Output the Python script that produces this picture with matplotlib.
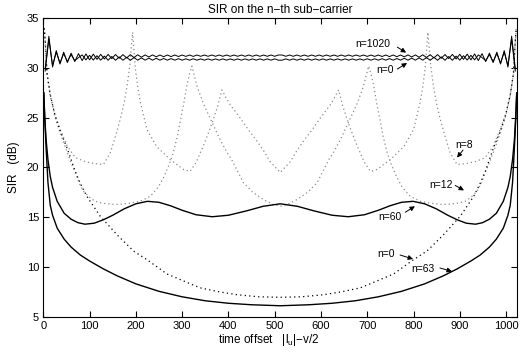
import matplotlib
matplotlib.use('Agg')
import matplotlib.pyplot as plt
import numpy as np

plt.rcParams['font.family'] = ['Liberation Sans', 'DejaVu Sans']
plt.rcParams['mathtext.fontset'] = 'custom'
plt.rcParams['mathtext.rm'] = 'Liberation Sans'
plt.rcParams['mathtext.it'] = 'Liberation Sans'

# ---------------- data ----------------
# oscillating SIR of the edge sub-carriers (values at the extrema)
osc_x = np.arange(4, 1024, 8)
sir_n1020 = [
    29.9, 33.2, 30.1, 31.75, 30.4, 31.6, 30.55, 31.5, 30.65, 31.45, 30.75, 31.42, 30.82, 31.4, 30.87, 31.38,
    30.91, 31.37, 30.95, 31.36, 30.98, 31.35, 31.02, 31.34, 31.06, 31.33, 31.09, 31.32, 31.11, 31.32, 31.13, 31.31,
    31.14, 31.31, 31.15, 31.31, 31.16, 31.31, 31.17, 31.31, 31.17, 31.31, 31.18, 31.31, 31.18, 31.31, 31.18, 31.31,
    31.18, 31.31, 31.18, 31.31, 31.18, 31.31, 31.18, 31.31, 31.18, 31.31, 31.18, 31.31, 31.18, 31.31, 31.18, 31.31,
    31.31, 31.18, 31.31, 31.18, 31.31, 31.18, 31.31, 31.18, 31.31, 31.18, 31.31, 31.18, 31.31, 31.18, 31.31, 31.18,
    31.31, 31.18, 31.31, 31.18, 31.31, 31.18, 31.31, 31.17, 31.31, 31.17, 31.31, 31.16, 31.31, 31.15, 31.31, 31.14,
    31.31, 31.13, 31.32, 31.11, 31.32, 31.09, 31.33, 31.06, 31.34, 31.02, 31.35, 30.98, 31.36, 30.95, 31.37, 30.91,
    31.38, 30.87, 31.4, 30.82, 31.42, 30.75, 31.45, 30.65, 31.5, 30.55, 31.6, 30.4, 31.75, 30.1, 33.2, 29.9]
sir_n0_solid = [
    29.7, 32.9, 30.25, 31.6, 30.5, 31.45, 30.65, 31.35, 30.75, 31.05, 31.32, 30.82, 31.28, 30.8, 31.24, 30.79,
    31.2, 30.78, 31.16, 30.78, 31.12, 30.78, 31.08, 30.78, 31.05, 30.79, 31.02, 30.79, 31.0, 30.79, 30.98, 30.79,
    30.96, 30.79, 30.95, 30.79, 30.94, 30.79, 30.93, 30.79, 30.93, 30.79, 30.92, 30.79, 30.92, 30.79, 30.92, 30.79,
    30.92, 30.79, 30.92, 30.79, 30.92, 30.79, 30.92, 30.79, 30.92, 30.79, 30.92, 30.79, 30.92, 30.79, 30.92, 30.79,
    30.79, 30.92, 30.79, 30.92, 30.79, 30.92, 30.79, 30.92, 30.79, 30.92, 30.79, 30.92, 30.79, 30.92, 30.79, 30.92,
    30.79, 30.92, 30.79, 30.92, 30.79, 30.92, 30.79, 30.93, 30.79, 30.93, 30.79, 30.94, 30.79, 30.95, 30.79, 30.96,
    30.79, 30.98, 30.79, 31.0, 30.79, 31.02, 30.79, 31.05, 30.78, 31.08, 30.78, 31.12, 30.78, 31.16, 30.78, 31.2,
    30.79, 31.24, 30.8, 31.28, 30.82, 31.32, 31.05, 30.75, 31.35, 30.65, 31.45, 30.5, 31.6, 30.25, 32.9, 29.7]

# n = 63 (solid)
n63_x = [1, 3, 6, 10, 15, 20, 30, 45, 60, 80, 100, 130, 160, 200, 250, 300, 350, 400, 450, 512,
         574, 624, 674, 724, 774, 824, 864, 894, 924, 944, 964, 979, 994, 1004, 1009, 1014, 1018, 1021, 1023]
n63_y = [27.5, 25.0, 22.0, 18.5, 16.2, 15.2, 13.9, 12.8, 12.0, 11.2, 10.6, 9.8, 9.1, 8.3, 7.55, 7.0, 6.6, 6.35, 6.2, 6.1,
         6.2, 6.35, 6.6, 7.0, 7.55, 8.3, 9.1, 9.8, 10.6, 11.2, 12.0, 12.8, 13.9, 15.2, 16.2, 18.5, 22.0, 25.0, 27.5]

# n = 60 (solid)
n60_x = [1, 3, 6, 10, 15, 20, 30, 45, 60, 75, 90, 110, 130, 150, 175, 200, 225, 250, 275, 300, 330, 365, 400, 440, 475, 512,
         549, 584, 624, 659, 694, 724, 749, 774, 799, 824, 849, 874, 894, 914, 934, 949, 964, 979, 994, 1004, 1009, 1014, 1018, 1021, 1023]
n60_y = [27.5, 25.2, 22.8, 20.8, 19.1, 18.0, 16.6, 15.4, 14.8, 14.45, 14.3, 14.4, 14.75, 15.2, 15.85, 16.35, 16.6, 16.5, 16.15, 15.7, 15.25, 15.05, 15.2, 15.65, 16.1, 16.35,
         16.1, 15.65, 15.2, 15.05, 15.25, 15.7, 16.15, 16.5, 16.6, 16.35, 15.85, 15.2, 14.75, 14.4, 14.3, 14.45, 14.8, 15.4, 16.6, 18.0, 19.1, 20.8, 22.8, 25.2, 27.5]

# n = 0 (dotted, black)
n0d_x = [2, 4, 8, 15, 25, 37, 51, 60, 69, 80, 94, 110, 123, 160, 195, 225, 267, 300, 339, 380, 420, 466, 512,
         558, 604, 644, 685, 724, 757, 799, 829, 864, 901, 914, 930, 944, 955, 964, 973, 987, 999, 1009, 1016, 1020, 1022]
n0d_y = [34.0, 32.8, 29.5, 27.3, 25.3, 23.6, 22.0, 20.8, 19.6, 18.4, 17.1, 16.0, 15.1, 13.2, 11.6, 10.7, 9.3, 8.65, 7.9, 7.5, 7.2, 7.0, 6.95,
         7.0, 7.2, 7.5, 7.9, 8.65, 9.3, 10.7, 11.6, 13.2, 15.1, 16.0, 17.1, 18.4, 19.6, 20.8, 22.0, 23.6, 25.3, 27.3, 29.5, 32.8, 34.0]

# n = 8 (dotted, grey)
n8_x = [2, 4, 8, 15, 25, 37, 51, 69, 90, 110, 130, 145, 155, 166, 175, 181, 187, 193, 199, 205, 210, 224, 245, 274, 303, 317,
        330, 346, 357, 368, 377, 386, 395, 404, 425, 443, 461, 476, 490, 512,
        534, 548, 563, 581, 599, 620, 629, 638, 647, 656, 667, 678, 694, 707, 721, 750, 779, 800, 814, 819, 825, 831, 837, 843, 849, 858, 869, 879, 894, 914, 934, 955, 973, 987, 999, 1009, 1016, 1020, 1022]
n8_y = [34.0, 32.8, 29.4, 27.3, 25.3, 23.8, 22.2, 21.0, 20.6, 20.4, 20.3, 21.5, 23.0, 24.8, 26.6, 28.2, 30.3, 33.6, 29.9, 27.8, 26.5, 23.8, 22.1, 20.8, 19.8, 19.6,
        20.5, 22.2, 23.5, 24.9, 26.2, 27.8, 27.0, 26.3, 25.0, 23.8, 22.7, 21.7, 20.6, 19.5,
        20.6, 21.7, 22.7, 23.8, 25.0, 26.3, 27.0, 27.8, 26.2, 24.9, 23.5, 22.2, 20.5, 19.6, 19.8, 20.8, 22.1, 23.8, 26.5, 27.8, 29.9, 33.6, 30.3, 28.2, 26.6, 24.8, 23.0, 21.5, 20.3, 20.4, 20.6, 21.0, 22.2, 23.8, 25.3, 27.3, 29.4, 32.8, 34.0]

# n = 12 (dotted, grey)
n12_x = [2, 4, 8, 15, 25, 37, 51, 60, 69, 78, 87, 100, 112, 130, 150, 166, 185, 209, 231, 248, 260, 272, 281, 290, 296, 303, 310, 316, 321,
         326, 332, 346, 361, 380, 397, 407, 420, 432, 453, 475, 496, 512,
         528, 549, 571, 592, 604, 617, 627, 644, 663, 678, 692, 698, 703, 708, 714, 721, 728, 734, 743, 752, 764, 776, 793, 815, 839, 858, 874, 894, 912, 924, 937, 946, 955, 964, 973, 987, 999, 1009, 1016, 1020, 1022]
n12_y = [34.0, 32.8, 29.4, 27.2, 25.1, 23.4, 21.6, 20.5, 19.5, 18.4, 17.6, 17.0, 16.6, 16.4, 16.3, 16.3, 16.4, 16.6, 17.1, 18.0, 19.0, 20.3, 21.5, 23.2, 24.7, 26.3, 28.2, 29.4, 30.2,
         29.3, 28.2, 26.4, 24.9, 23.0, 21.5, 20.8, 19.6, 18.5, 17.5, 16.8, 16.3, 16.1,
         16.3, 16.8, 17.5, 18.5, 19.6, 20.8, 21.5, 23.0, 24.9, 26.4, 28.2, 29.3, 30.2, 29.4, 28.2, 26.3, 24.7, 23.2, 21.5, 20.3, 19.0, 18.0, 17.1, 16.6, 16.4, 16.3, 16.3, 16.4, 16.6, 17.0, 17.6, 18.4, 19.5, 20.5, 21.6, 23.4, 25.1, 27.2, 29.4, 32.8, 34.0]

# annotations: label, text position, arrow tail, arrow head (data units)
labels = ['n=1020', 'n=0', 'n=8', 'n=12', 'n=60', 'n=0', 'n=63']
label_xy = [(713, 32.4), (739, 29.8), (909, 22.3), (860, 18.2), (748, 15.0), (741, 11.3), (820, 9.8)]
arrow_tail = [(765, 32.1), (765, 29.9), (907, 21.75), (890, 18.2), (782, 15.5), (771, 11.2), (857, 9.9)]
arrow_head = [(784, 31.55), (786, 30.5), (894, 21.0), (909, 17.7), (803, 16.1), (799, 10.8), (883, 9.55)]

x_ticks = [0, 100, 200, 300, 400, 500, 600, 700, 800, 900, 1000]
y_ticks = [5, 10, 15, 20, 25, 30, 35]

# ---------------- figure ----------------
fig = plt.figure(figsize=(5.2, 3.52), dpi=100)
ax = fig.add_axes([0.0833, 0.1003, 0.9104, 0.8477])

grey = '0.55'
dot = (0, (1, 2.3))
ax.plot(n8_x, n8_y, color=grey, lw=0.9, ls=dot)
ax.plot(n12_x, n12_y, color=grey, lw=0.9, ls=dot)
ax.plot(n0d_x, n0d_y, color='black', lw=0.9, ls=(0, (1, 2.6)))
ax.plot(n63_x, n63_y, color='black', lw=1.0)
ax.plot(n60_x, n60_y, color='black', lw=1.0)
ax.plot(osc_x, sir_n1020, color='black', lw=0.7)
ax.plot(osc_x, sir_n0_solid, color='black', lw=0.7)

for lab, txy, tail, head in zip(labels, label_xy, arrow_tail, arrow_head):
    ax.text(txy[0], txy[1], lab, fontsize=7.5, ha='center', va='center')
    ax.annotate('', xy=head, xytext=tail,
                arrowprops=dict(arrowstyle='-|>', color='black', lw=0.7,
                                mutation_scale=7, shrinkA=0, shrinkB=0))

ax.set_xlim(0, 1023)
ax.set_ylim(5, 35)
ax.set_xticks(x_ticks)
ax.set_yticks(y_ticks)
ax.tick_params(direction='in', top=True, right=True, length=4, width=0.8,
               labelsize=8, pad=3)
for s in ax.spines.values():
    s.set_linewidth(0.8)

ax.set_title('SIR on the n\u2212th sub\u2212carrier', fontsize=8.5, pad=4)
ax.set_xlabel('time offset   |l$_{\\mathrm{u}}$|\u2212v/2', fontsize=8.5)
ax.set_ylabel('SIR   (dB)', fontsize=8.5)
ax.xaxis.set_label_coords(0.477, -0.05)
ax.yaxis.set_label_coords(-0.05, 0.5)

fig.savefig('out.png', dpi=100)
